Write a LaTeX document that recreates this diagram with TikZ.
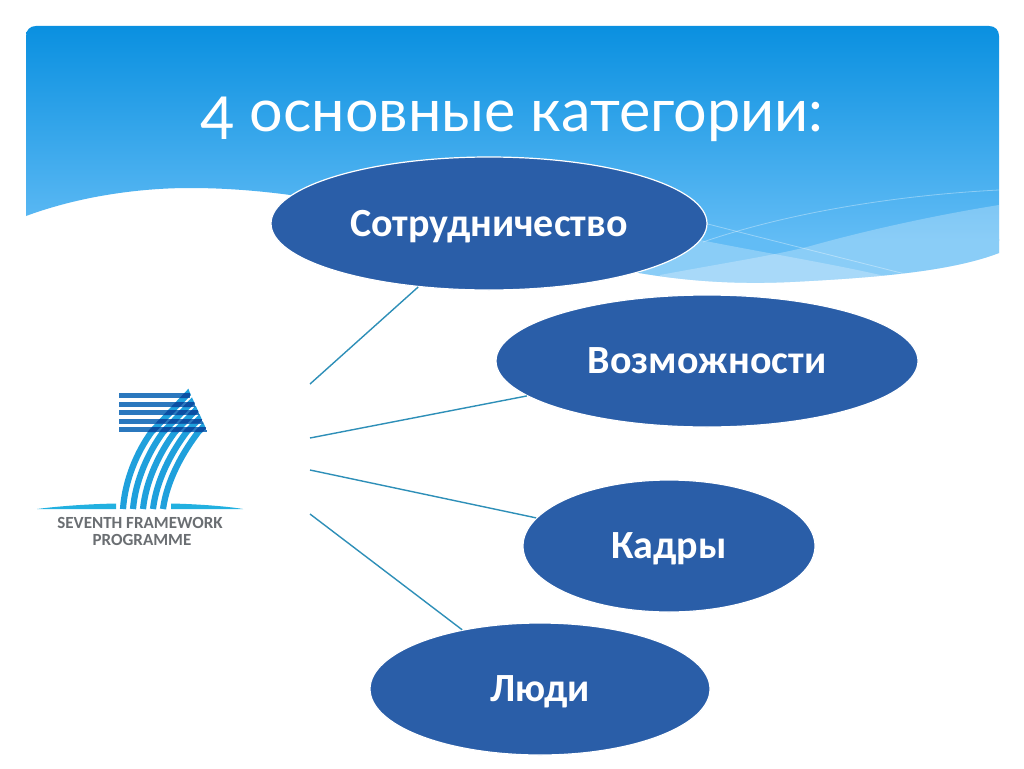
\documentclass[tikz,border=0pt]{standalone}
\usepackage{fontspec}
\setmainfont{Carlito}
\newfontfamily\titlefont{Lato}
\usetikzlibrary{shapes.geometric}
\definecolor{elfill}{HTML}{2A5EA8}
\definecolor{linkc}{HTML}{2E8FB8}
\definecolor{topc}{HTML}{0A90E0}
\definecolor{botc}{HTML}{62BCF5}
\definecolor{barc}{HTML}{2B78BE}
\definecolor{stripc}{HTML}{1FA0DC}
\definecolor{darkc}{HTML}{0B4FA3}
\definecolor{horc}{HTML}{22B0E0}
\definecolor{logot}{HTML}{6A6E72}
\newcommand{\ovaltext}[1]{\raisebox{-12.5pt}[0pt][0pt]{#1}}
\tikzset{
 oval/.style={ellipse,draw=white,line width=1.2pt,fill=elfill,text=white,inner sep=0pt,
   font=\fontsize{40}{44}\selectfont\bfseries},
 link/.style={draw=linkc,line width=1.4pt},
 bar/.style={draw=none,fill=barc},
 strip/.style={line width=6.2pt,line cap=butt},
 logotxt/.style={text=logot,font=\fontsize{17}{19}\selectfont\bfseries,inner sep=0pt},
 thinln/.style={draw=white,opacity=.35,line width=.8pt},
 lightband/.style={fill=white,opacity=.26}
}
\newcommand{\panelpath}{(26,216) .. controls (80,196) and (140,188) .. (190,188)
  .. controls (300,188) and (400,215) .. (500,240)
  .. controls (600,268) and (680,287) .. (790,282)
  .. controls (870,278) and (950,272) .. (999,253)
  -- (999,36) .. controls (999,30) and (995,26) .. (989,26) -- (36,26)
  .. controls (30,26) and (26,30) .. (26,36) -- cycle}
\newcommand{\stripset}{%
 \foreach \i in {0,1,2,3,4}{
  \draw[strip] (123+10*\i,509) .. controls (125+10.5*\i,480) and (137+11.5*\i,452) .. (151.5+11.7*\i,432)
     -- (191.5+11.7*\i,390);
 }}
\newcommand{\sevenclip}{(100,520) -- (100,385) -- (187,385) -- (190,393) -- (208,433) -- (208,520) -- cycle}
\begin{document}
\begin{tikzpicture}[x=1pt,y=-1pt]
\useasboundingbox (0,0) rectangle (1024,768);
\fill[white] (0,0) rectangle (1024,768);
% panel
\begin{scope}
 \clip \panelpath;
 \shade[top color=topc,bottom color=botc] (0,26) rectangle (1024,240);
 \fill[botc] (0,239) rectangle (1024,290);
 \fill[lightband] (999,205) .. controls (930,216) and (860,232) .. (807,247)
   .. controls (770,256) and (730,262) .. (660,275) -- (660,295) -- (999,295) -- cycle;
 \fill[lightband] (690,238) .. controls (780,256) and (860,268) .. (920,285)
   -- (640,295) -- (640,238) -- cycle;
 \draw[thinln] (700,222) .. controls (770,240) and (850,260) .. (913,276);
 \draw[thinln] (703,242) .. controls (790,212) and (900,195) .. (999,190);
\end{scope}
% title
\node[text=white,font=\titlefont\fontsize{59.3}{64}\selectfont,anchor=base west,inner sep=0pt] (title) at (200,131) {\raisebox{-8pt}{4} основные категории:};
% logo anchors
\coordinate (a1) at (310,384);
\coordinate (a2) at (310,438);
\coordinate (a3) at (310,470);
\coordinate (a4) at (310,514);
% ovals
\node[oval,minimum width=436pt,minimum height=133pt] (e1) at (489,223.5) {\ovaltext{Сотрудничество}};
\node[oval,minimum width=422pt,minimum height=132pt] (e2) at (707,361) {\ovaltext{Возможности}};
\node[oval,minimum width=292pt,minimum height=132pt] (e3) at (669,546) {\ovaltext{Кадры}};
\node[oval,minimum width=340pt,minimum height=132pt] (e4) at (540,689) {\ovaltext{Люди}};
\draw[link] (a1) -- (e1);
\draw[link] (a2) -- (e2);
\draw[link] (a3) -- (e3);
\draw[link] (a4) -- (e4);
% logo
\begin{scope}
 \clip \sevenclip;
 \begin{scope}[color=stripc]
  \stripset
 \end{scope}
\end{scope}
\begin{scope}
 \clip \sevenclip;
 \fill[bar] (119,393) rectangle (190,398);
 \fill[bar] (119,402) rectangle (195,407);
 \fill[bar] (119,410) rectangle (199,415);
 \fill[bar] (119,419) rectangle (203,423.5);
 \fill[bar] (119,427) rectangle (207,432);
\end{scope}
\begin{scope}
 \clip \sevenclip;
 \clip (119,393) rectangle (190,398) (119,402) rectangle (195,407) (119,410) rectangle (199,415)
       (119,419) rectangle (203,423.5) (119,427) rectangle (207,432);
 \begin{scope}[color=darkc]
  \stripset
 \end{scope}
\end{scope}
\fill[horc] (37,509) .. controls (60,506) and (90,504) .. (116,503.5) -- (116,509) -- cycle;
\fill[horc] (171,503.5) .. controls (195,504) and (225,506) .. (243,509) -- (171,509) -- cycle;
\node[logotxt,anchor=base] (l1) at (140,528.5) {SEVENTH FRAMEWORK};
\node[logotxt,anchor=base] (l2) at (142,545) {PROGRAMME};
\end{tikzpicture}
\end{document}
